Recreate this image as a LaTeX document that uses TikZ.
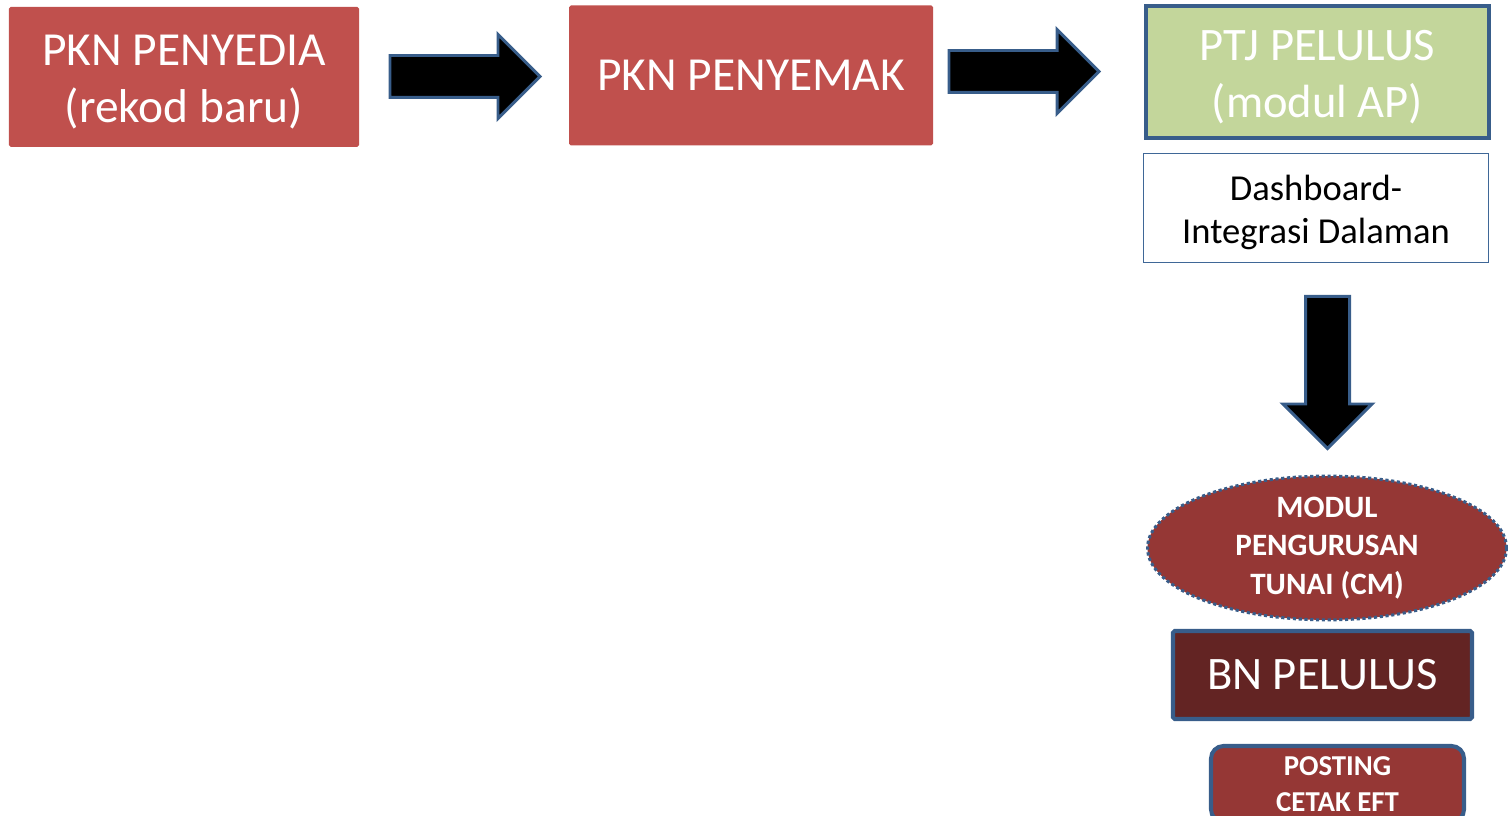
\documentclass[tikz,border=0pt]{standalone}
\usepackage{fontspec}
\setmainfont{Carlito}
\usetikzlibrary{shapes.geometric, shapes.arrows, positioning}
\definecolor{pknRed}{HTML}{C0504D}
\definecolor{ptjGreen}{HTML}{C3D69B}
\definecolor{edgeBlue}{HTML}{385D8A}
\definecolor{dashBlue}{HTML}{4F81BD}
\definecolor{cmRed}{HTML}{953735}
\definecolor{bnDark}{HTML}{632423}
\newcommand{\topgap}[1]{\rule{0pt}{#1}}
\tikzset{
  boxPkn/.style={rectangle, rounded corners=1pt, fill=pknRed, text=white, align=center,
                 font=\fontsize{27}{32.5}\selectfont, minimum height=2.8cm, inner sep=0pt},
  boxPtj/.style={rectangle, draw=edgeBlue, line width=2.3pt, fill=ptjGreen, text=white,
                 align=center, font=\fontsize{26.5}{32.5}\selectfont,
                 minimum width=6.86cm, minimum height=2.64cm, inner sep=0pt},
  boxDash/.style={rectangle, draw=dashBlue!80!black, line width=0.8pt, fill=white,
                  align=center, font=\fontsize{20.8}{25}\selectfont,
                  minimum width=6.9cm, minimum height=2.18cm, inner sep=0pt},
  ovalCm/.style={ellipse, draw=edgeBlue, line width=1.7pt, dash pattern=on 1.8pt off 1.5pt,
                 fill=cmRed, text=white, align=center,
                 font=\bfseries\fontsize{17.7}{21.8}\selectfont,
                 minimum width=7.18cm, minimum height=2.66cm, inner sep=0pt},
  boxBn/.style={rectangle, rounded corners=1pt, draw=edgeBlue, line width=2.3pt, fill=bnDark,
                text=white, align=center, font=\fontsize{26.5}{29}\selectfont,
                minimum width=5.98cm, minimum height=1.76cm, inner sep=0pt},
  boxEft/.style={rectangle, rounded corners=0.25cm, draw=edgeBlue, line width=2.3pt,
                 fill=cmRed, text=white, align=center,
                 font=\bfseries\fontsize{16.4}{20.4}\selectfont,
                 minimum width=5.06cm, minimum height=1.52cm, inner sep=0pt},
  arrowBlk/.style={single arrow, draw=edgeBlue, fill=black, line width=1.7pt,
                   inner xsep=0pt, inner ysep=0.39cm, minimum height=3cm,
                   single arrow head extend=0.42cm, single arrow head indent=0pt,
                   anchor=tail},
}
\begin{document}
\begin{tikzpicture}
  \useasboundingbox (0,0) rectangle (30.22,-16.32);

  % baris atas
  \node[boxPkn, minimum width=7cm] (penyedia) at (3.68,-1.54)
    {\topgap{23pt}PKN PENYEDIA\\(rekod baru)};
  \node[boxPkn, minimum width=7.28cm] (penyemak) at (15.02,-1.51) {PKN PENYEMAK};
  \node[boxPtj] (ptj) at (26.35,-1.44) {\topgap{23pt}PTJ PELULUS\\(modul AP)};
  \node[boxDash] (dash) at (26.32,-4.16) {\topgap{19.5pt}Dashboard-\\Integrasi Dalaman};

  % anak panah
  \node[arrowBlk] (arrA) at (7.77,-1.53) {};
  \node[arrowBlk] (arrB) at (18.95,-1.43) {};
  \node[arrowBlk, minimum height=3.04cm, inner ysep=0.41cm, single arrow head extend=0.45cm,
        rotate=-90] (arrC) at (26.55,-5.9) {};

  % lajur kanan
  \node[ovalCm] (cm) at (26.54,-10.96) {MODUL\\PENGURUSAN\\TUNAI (CM)};
  \node[boxBn] (bn) at (26.45,-13.5) {BN PELULUS};
  \node[boxEft] (eft) at (26.75,-15.68) {POSTING\\CETAK EFT};
\end{tikzpicture}
\end{document}
